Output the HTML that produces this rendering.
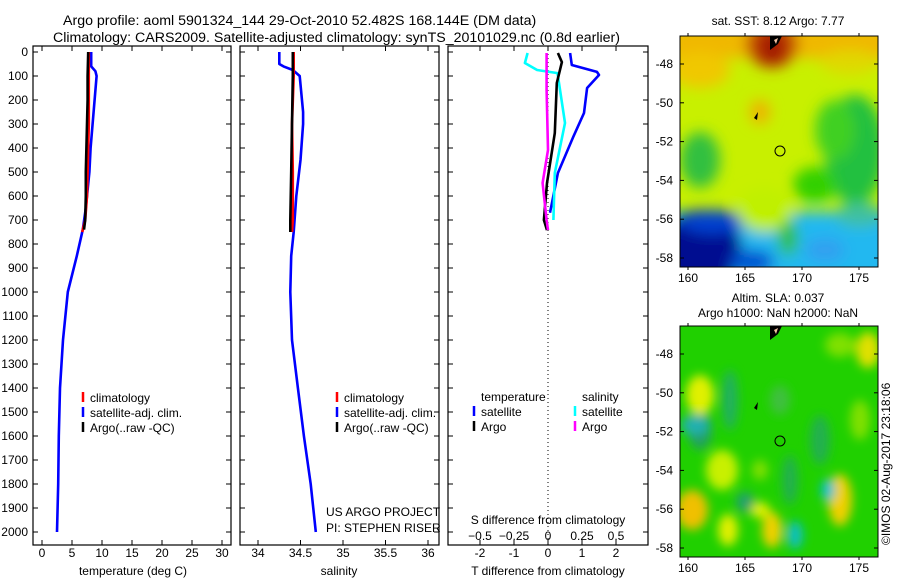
<!DOCTYPE html>
<html><head><meta charset="utf-8">
<style>
html,body{margin:0;padding:0;background:#fff;}
body{width:900px;height:580px;overflow:hidden;font-family:"Liberation Sans",sans-serif;}
svg text{font-family:"Liberation Sans",sans-serif;font-size:12px;fill:#000;}
</style></head>
<body>
<svg id="fig" width="900" height="580" viewBox="0 0 900 580" xmlns="http://www.w3.org/2000/svg">
<defs>
<filter id="blur1" x="-20%" y="-20%" width="140%" height="140%"><feGaussianBlur stdDeviation="7"/></filter>
<filter id="blur2" x="-20%" y="-20%" width="140%" height="140%"><feGaussianBlur stdDeviation="5"/></filter>
<clipPath id="clipM1"><rect x="680" y="36" width="198" height="231"/></clipPath>
<clipPath id="clipM2"><rect x="680" y="326" width="198" height="231"/></clipPath>
</defs>
<text x="63" y="25" style="font-size:14.2px">Argo profile: aoml 5901324_144 29-Oct-2010 52.482S 168.144E (DM data)</text>
<text x="53" y="42" style="font-size:14.2px">Climatology: CARS2009. Satellite-adjusted climatology: synTS_20101029.nc (0.8d earlier)</text>

<!-- Map 1: SST -->
<g>
<text x="778" y="25" text-anchor="middle">sat. SST: 8.12 Argo: 7.77</text>
<g clip-path="url(#clipM1)">
<rect x="680" y="36" width="198" height="231" fill="#c8f000"/>
<g filter="url(#blur1)">
<rect x="670" y="26" width="220" height="32" fill="#f0b800"/>
<ellipse cx="700" cy="70" rx="30" ry="18" fill="#f0c800"/>
<ellipse cx="850" cy="62" rx="30" ry="12" fill="#e0d800"/>
<ellipse cx="772" cy="44" rx="26" ry="24" fill="#c04000"/>
<ellipse cx="772" cy="48" rx="12" ry="16" fill="#a01800"/>
<ellipse cx="760" cy="112" rx="10" ry="12" fill="#f0b000"/>
<ellipse cx="855" cy="150" rx="30" ry="55" fill="#20c040"/>
<ellipse cx="835" cy="130" rx="20" ry="30" fill="#40d020"/>
<ellipse cx="700" cy="160" rx="20" ry="28" fill="#30c040"/>
<ellipse cx="815" cy="185" rx="22" ry="18" fill="#30d000"/>
<rect x="660" y="212" width="240" height="70" fill="#20b8f0"/>
<ellipse cx="860" cy="215" rx="25" ry="12" fill="#40c0a0"/>
<ellipse cx="700" cy="250" rx="42" ry="40" fill="#000c90"/>
<ellipse cx="712" cy="222" rx="32" ry="12" fill="#0040d0"/>
<ellipse cx="765" cy="210" rx="28" ry="22" fill="#c0f000"/>
<ellipse cx="788" cy="238" rx="10" ry="18" fill="#30c040"/>
<ellipse cx="752" cy="262" rx="22" ry="12" fill="#0050d0"/>
<ellipse cx="825" cy="250" rx="20" ry="12" fill="#30a0f0"/>
</g>
<polygon points="770,36 782,36 778,44 770,50" fill="#000"/>
<polygon points="774,40 778,38 776,44" fill="#f0c0a0"/>
<polygon points="754,118 758,112 757,120" fill="#000"/>
</g>
<rect x="680" y="36" width="198" height="231" fill="none" stroke="#000"/>
<circle cx="780" cy="151" r="5" fill="none" stroke="#000"/>
</g>

<!-- Map 2: SLA -->
<g>
<text x="778" y="302" text-anchor="middle">Altim. SLA: 0.037</text>
<text x="778" y="317" text-anchor="middle">Argo h1000: NaN h2000: NaN</text>
<g clip-path="url(#clipM2)">
<rect x="680" y="326" width="198" height="231" fill="#20d000"/>
<g filter="url(#blur2)">
<ellipse cx="730" cy="400" rx="8" ry="30" fill="#20b060"/>
<ellipse cx="700" cy="430" rx="12" ry="20" fill="#20a060"/>
<ellipse cx="820" cy="440" rx="10" ry="25" fill="#20b050"/>
<ellipse cx="790" cy="480" rx="8" ry="25" fill="#20b050"/>
<ellipse cx="700" cy="395" rx="14" ry="20" fill="#e0f000"/>
<ellipse cx="695" cy="425" rx="14" ry="10" fill="#20b0b0"/>
<ellipse cx="722" cy="470" rx="16" ry="20" fill="#c8f000"/>
<ellipse cx="692" cy="510" rx="16" ry="20" fill="#f0c000"/>
<ellipse cx="728" cy="530" rx="10" ry="16" fill="#e0f000"/>
<ellipse cx="772" cy="530" rx="10" ry="18" fill="#f0d000"/>
<ellipse cx="795" cy="535" rx="8" ry="14" fill="#10c0c0"/>
<ellipse cx="840" cy="500" rx="12" ry="26" fill="#f0d000"/>
<ellipse cx="828" cy="490" rx="7" ry="11" fill="#10c0d0"/>
<ellipse cx="868" cy="350" rx="12" ry="18" fill="#e0e000"/>
<ellipse cx="840" cy="345" rx="15" ry="12" fill="#80e000"/>
<ellipse cx="760" cy="470" rx="8" ry="10" fill="#80e000"/>
<ellipse cx="760" cy="510" rx="10" ry="8" fill="#e0f000"/>
<ellipse cx="860" cy="420" rx="10" ry="20" fill="#80e000"/>
<ellipse cx="745" cy="502" rx="9" ry="10" fill="#20a070"/>
<ellipse cx="780" cy="400" rx="10" ry="15" fill="#40c040"/>
</g>
<polygon points="770,326 782,326 778,334 770,340" fill="#000"/>
<polygon points="774,330 778,328 776,334" fill="#f0c0a0"/>
<polygon points="754,408 758,402 757,410" fill="#000"/>
</g>
<rect x="680" y="326" width="198" height="231" fill="none" stroke="#000"/>
<circle cx="780" cy="441" r="5" fill="none" stroke="#000"/>
<text transform="translate(890,545) rotate(-90)">©IMOS 02-Aug-2017 23:18:06</text>
</g>
<g id="dyn"></g>
</svg>
<script>
// depth grids and series values
const tempClimDepth=[0,100,200,300,400,500,600,700,750];
const tempClim=[7.8,7.8,7.8,7.8,7.7,7.6,7.5,7.2,6.7];
const tempArgoDepth=[0,100,200,300,400,500,600,700,740];
const tempArgo=[7.7,7.6,7.6,7.5,7.4,7.3,7.3,7.2,7.0];
const tempSatDepth=[0,60,80,100,250,400,500,650,740,850,1000,1200,1400,1600,1800,2000];
const tempSat=[8.2,8.2,8.9,9.1,8.6,8.1,7.9,7.3,6.8,5.8,4.3,3.5,3.0,2.8,2.7,2.5];
const salClimDepth=[0,100,300,500,700,750];
const salClim=[34.42,34.42,34.40,34.41,34.41,34.40];
const salArgoDepth=[0,100,300,500,700,750];
const salArgo=[34.41,34.41,34.40,34.39,34.38,34.38];
const salSatDepth=[0,50,60,75,100,250,300,450,600,750,850,1000,1200,1400,1600,1800,2000];
const salSat=[34.25,34.25,34.30,34.41,34.49,34.53,34.53,34.50,34.45,34.42,34.39,34.38,34.40,34.47,34.54,34.62,34.68];
const dTSatDepth=[4,54,83,96,150,254,354,504,670];
const dTSat=[0.65,0.7,1.44,1.5,1.15,1.06,0.74,0.29,0.06];
const dTArgoDepth=[4,42,129,338,546,700,742];
const dTArgo=[0.29,0.41,0.26,0.2,-0.03,-0.12,-0.03];
const dSSatDepth=[4,46,75,88,296,504,700];
const dSSat=[-0.15,-0.17,-0.08,0.07,0.125,0.05,0.04];
const dSArgoDepth=[4,158,408,546,700,742];
const dSArgo=[-0.01,-0.01,0,-0.04,-0.01,0];
const depthTicks=[0,100,200,300,400,500,600,700,800,900,1000,1100,1200,1300,1400,1500,1600,1700,1800,1900,2000];
const tempTicks=[0,5,10,15,20,25,30];
const salTicks=[34,34.5,35,35.5,36];
const salTickLabels=["34","34.5","35","35.5","36"];
const dTTicks=[-2,-1,0,1,2];
const dSTicks=[-0.5,-0.25,0,0.25,0.5];
const latTicks=[-48,-50,-52,-54,-56,-58];
const lonTicks=[160,165,170,175];

const NS='http://www.w3.org/2000/svg';
const g=document.getElementById('dyn');
function el(tag,attrs,parent){const e=document.createElementNS(NS,tag);for(const k in attrs)e.setAttribute(k,attrs[k]);(parent||g).appendChild(e);return e;}
function txt(s,x,y,anchor,name){const t=el('text',{x:x,y:y,'text-anchor':anchor||'start'});t.textContent=s;


return t;}
const Y=d=>52+d*0.24;
const panels=[{x0:33,x1:231},{x0:240,x1:439},{x0:448,x1:648}];
const xT=v=>42+v*6;
const xS=v=>258+(v-34)*85;
const xDT=v=>548+v*34;
const xDS=v=>548+v*136;

panels.forEach((p,i)=>{
  const r=el('rect',{x:p.x0,y:46,width:p.x1-p.x0,height:499,fill:'none',stroke:'#000','stroke-width':1.2});
  
  
  depthTicks.forEach(d=>{el('line',{x1:p.x0,x2:p.x0+5,y1:Y(d),y2:Y(d),stroke:'#000'});el('line',{x1:p.x1,x2:p.x1-5,y1:Y(d),y2:Y(d),stroke:'#000'});});
});
depthTicks.forEach(d=>txt(String(d),28,Y(d)+4,'end','depth-tick-label'));

function xticks(ticks,fx,labels,name,ly){ticks.forEach((v,i)=>{const x=fx(v);
  el('line',{x1:x,x2:x,y1:46,y2:51,stroke:'#000'});el('line',{x1:x,x2:x,y1:545,y2:540,stroke:'#000'});
  txt(labels?labels[i]:String(v),x,ly||557,'middle',name);});}
xticks(tempTicks,xT,null,'temperature-tick-label');
xticks(salTicks,xS,salTickLabels,'salinity-tick-label');
xticks(dTTicks,xDT,null,'t-diff-tick-label');
dSTicks.forEach(v=>txt(String(v).replace('-','\u2212'),xDS(v),540,'middle','s-diff-tick-label'));
txt('temperature (deg C)',133,575,'middle','temperature-axis-title');
txt('salinity',339,575,'middle','salinity-axis-title');
txt('T difference from climatology',548,575,'middle','t-diff-axis-title');
txt('S difference from climatology',548,524,'middle','s-diff-axis-title');

const zl=el('line',{x1:548,x2:548,y1:46,y2:545,stroke:'#000','stroke-dasharray':'1,3'});



function series(depths,vals,fx,color,name){
  const pts=depths.map((d,i)=>fx(vals[i]).toFixed(1)+','+Y(d).toFixed(1)).join(' ');
  const l=el('polyline',{points:pts,fill:'none',stroke:color,'stroke-width':2.6,'stroke-linejoin':'round'});
  
  
}
series(tempSatDepth,tempSat,xT,'#0000ff','temperature-satellite-line');
series(tempClimDepth,tempClim,xT,'#ff0000','temperature-climatology-line');
series(tempArgoDepth,tempArgo,xT,'#000','temperature-argo-line');
series(salSatDepth,salSat,xS,'#0000ff','salinity-satellite-line');
series(salClimDepth,salClim,xS,'#ff0000','salinity-climatology-line');
series(salArgoDepth,salArgo,xS,'#000','salinity-argo-line');
series(dTSatDepth,dTSat,xDT,'#0000ff','t-diff-satellite-line');
series(dSSatDepth,dSSat,xDS,'#00ffff','s-diff-satellite-line');
series(dTArgoDepth,dTArgo,xDT,'#000','t-diff-argo-line');
series(dSArgoDepth,dSArgo,xDS,'#ff00ff','s-diff-argo-line');

function legend(x,y,color,label){
  const b=el('line',{x1:x,x2:x,y1:y-10,y2:y,stroke:color,'stroke-width':2.5});
  
  
  txt(label,x+7,y,'start','legend-entry');
}
[[0,'#ff0000','climatology'],[1,'#0000ff','satellite-adj. clim.'],[2,'#000','Argo(..raw -QC)']].forEach(a=>{
  legend(83,402+a[0]*15,a[1],a[2]);legend(337,402+a[0]*15,a[1],a[2]);});
txt('temperature',481,401,'start','legend-header-temperature');
txt('salinity',582,401,'start','legend-header-salinity');
legend(474,416,'#0000ff','satellite');legend(474,431,'#000','Argo');
legend(575,416,'#00ffff','satellite');legend(575,431,'#ff00ff','Argo');
txt('US ARGO PROJECT',326,516,'start','project-label');
txt('PI: STEPHEN RISER',326,532,'start','pi-label');

const lonX=v=>688+(v-160)*11.4;
[[36,267,64,'sst'],[326,557,354,'sla']].forEach(m=>{
  const [top,bot,y48,n]=m;
  latTicks.forEach(v=>{const y=y48+(-48-v)*19.4;
    el('line',{x1:680,x2:684,y1:y,y2:y,stroke:'#000'});el('line',{x1:878,x2:874,y1:y,y2:y,stroke:'#000'});
    txt(String(v),673,y+4,'end',n+'-lat-tick-label');});
  lonTicks.forEach(v=>{const x=lonX(v);
    el('line',{x1:x,x2:x,y1:top,y2:top-3,stroke:'#000'});el('line',{x1:x,x2:x,y1:bot,y2:bot+3,stroke:'#000'});
    txt(String(v),x,bot+15,'middle',n+'-lon-tick-label');});
});
</script>
</body></html>
